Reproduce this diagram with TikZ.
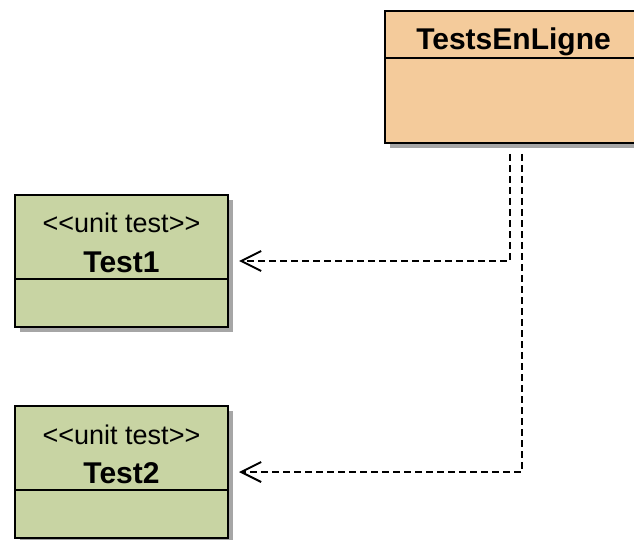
\documentclass[tikz,border=0pt]{standalone}
\usepackage{fontspec}
\setmainfont{Liberation Sans}
\usepackage{xcolor}
\usetikzlibrary{arrows.meta,shadows}
\definecolor{peach}{HTML}{F4CB9B}
\definecolor{sage}{HTML}{C8D4A3}
\begin{document}
\begin{tikzpicture}[
  x=1pt,y=-1pt,
  cls/.style={draw=black,line width=2pt,anchor=north west,
              drop shadow={shadow xshift=5pt,shadow yshift=-5pt,fill=black,opacity=0.35}},
  suitecls/.style={cls,fill=peach,minimum width=257pt,minimum height=132pt},
  unitcls/.style={cls,fill=sage,minimum width=213pt,minimum height=132pt},
  title/.style={anchor=base,font=\fontsize{30}{32}\selectfont\bfseries,inner sep=0pt},
  stereo/.style={anchor=base,font=\fontsize{27}{29}\selectfont,inner sep=0pt},
  sep/.style={line width=1.5pt},
  dep/.style={-{Straight Barb[length=20pt,width=20pt,line width=2pt]},
              line width=2pt,dash pattern=on 7pt off 4pt}
]
\useasboundingbox[fill=white] (0,0) rectangle (634,540);
% test suite
\node[suitecls] (suite) at (384,10) {};
\node[title] (suitename) at ([yshift=-40pt]suite.north) {TestsEnLigne};
\draw[sep] ([yshift=-48pt]suite.north west) -- ([yshift=-48pt]suite.north east);
% unit tests
\node[unitcls] (test1) at (14,194) {};
\node[stereo] (stereo1) at ([yshift=-39pt]test1.north) {<\kern0pt<unit test>\kern0pt>};
\node[title] (name1) at ([yshift=-78pt]test1.north) {Test1};
\draw[sep] ([yshift=-85pt]test1.north west) -- ([yshift=-85pt]test1.north east);
\node[unitcls] (test2) at (14,405) {};
\node[stereo] (stereo2) at ([yshift=-39pt]test2.north) {<\kern0pt<unit test>\kern0pt>};
\node[title] (name2) at ([yshift=-78pt]test2.north) {Test2};
\draw[sep] ([yshift=-85pt]test2.north west) -- ([yshift=-85pt]test2.north east);
% dependencies
\draw[dep] ([xshift=-4pt,yshift=-10pt]suite.south) |- ([xshift=10pt]test1.east);
\draw[dep] ([xshift=8pt,yshift=-10pt]suite.south) |- ([xshift=10pt]test2.east);
\end{tikzpicture}
\end{document}
